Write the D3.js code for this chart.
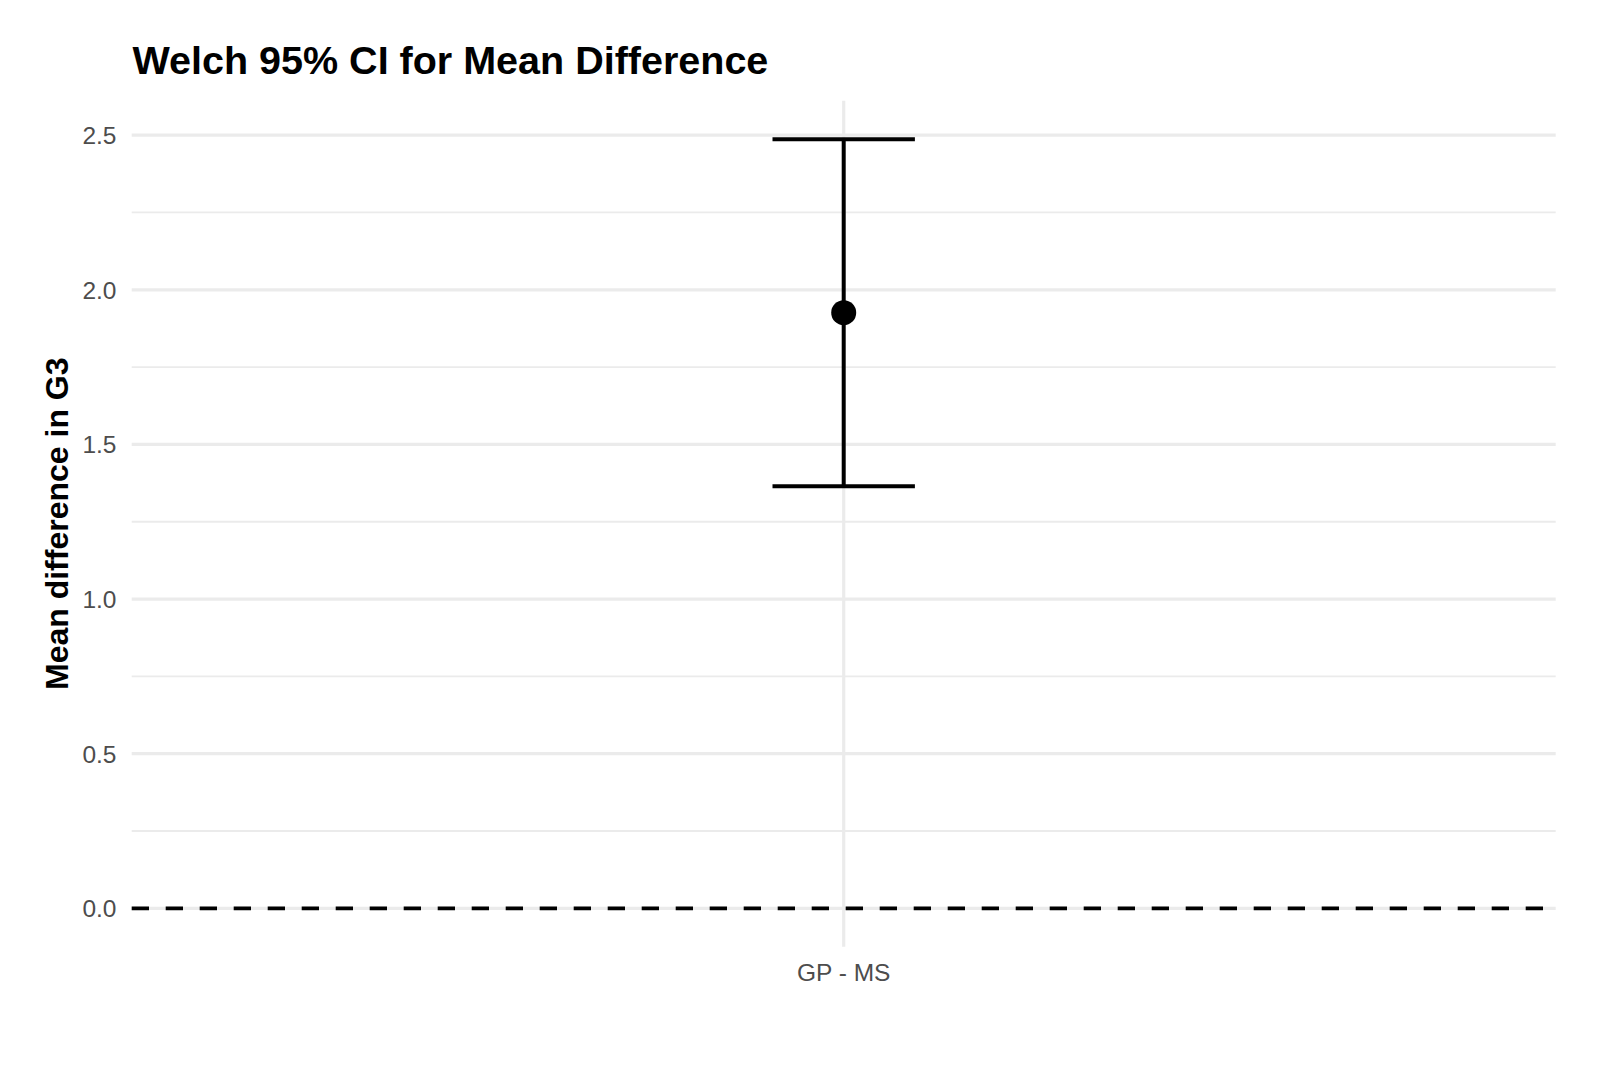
<!DOCTYPE html>
<html>
<head>
<meta charset="utf-8">
<script src="https://cdn.jsdelivr.net/npm/d3@7"></script>
<style>
    body { margin: 0; background: #fff; }
    text { font-family: "Liberation Sans", Arial, Helvetica, sans-serif; }
</style>
</head>
<body>
<div id="chart"></div>
<script>
// data
const comparisons = ["GP - MS"];
const estimates = [1.926];
const lowerCI = [1.365];
const upperCI = [2.487];
const yTicks = [0, 0.5, 1.0, 1.5, 2.0, 2.5];
const yMinorTicks = [0.25, 0.75, 1.25, 1.75, 2.25];

const width = 1600;
const height = 1067;
const plot = { left: 131.7, right: 1555.7, top: 100.7, bottom: 946.8 };

const svg = d3
    .select("#chart")
    .append("svg")
    .attr("width", width)
    .attr("height", height);

// ggplot style 5% expansion on continuous y
const yLo = Math.min(0, d3.min(lowerCI));
const yHi = Math.max(0, d3.max(upperCI));
const pad = (yHi - yLo) * 0.05;

const y = d3.scaleLinear()
    .domain([yLo - pad, yHi + pad])
    .range([plot.bottom, plot.top]);

// discrete x: positions 1..n with 0.6 padding each side
const x = d3.scaleLinear()
    .domain([0.4, comparisons.length + 0.6])
    .range([plot.left, plot.right]);

const grid = svg.append("g");

grid.selectAll(".minor")
    .data(yMinorTicks)
    .enter()
    .append("line")
    .attr("x1", plot.left)
    .attr("x2", plot.right)
    .attr("y1", d => y(d))
    .attr("y2", d => y(d))
    .attr("stroke", "#ebebeb")
    .attr("stroke-width", 1.8);

grid.selectAll(".major")
    .data(yTicks)
    .enter()
    .append("line")
    .attr("x1", plot.left)
    .attr("x2", plot.right)
    .attr("y1", d => y(d))
    .attr("y2", d => y(d))
    .attr("stroke", "#ebebeb")
    .attr("stroke-width", 3.2);

grid.selectAll(".vgrid")
    .data(comparisons)
    .enter()
    .append("line")
    .attr("x1", (d, i) => x(i + 1))
    .attr("x2", (d, i) => x(i + 1))
    .attr("y1", plot.top)
    .attr("y2", plot.bottom)
    .attr("stroke", "#ebebeb")
    .attr("stroke-width", 3.2);

// y tick labels
svg.append("g")
    .selectAll("text")
    .data(yTicks)
    .enter()
    .append("text")
    .attr("x", 116.5)
    .attr("y", d => y(d))
    .attr("dy", "0.36em")
    .attr("text-anchor", "end")
    .attr("font-size", "24.5px")
    .attr("fill", "#4d4d4d")
    .text(d => d.toFixed(1));

// x tick labels
svg.append("g")
    .selectAll("text")
    .data(comparisons)
    .enter()
    .append("text")
    .attr("x", (d, i) => x(i + 1))
    .attr("y", 980.5)
    .attr("text-anchor", "middle")
    .attr("font-size", "24.5px")
    .attr("fill", "#4d4d4d")
    .text(d => d);

// reference line at zero
svg.append("line")
    .attr("x1", plot.left)
    .attr("x2", plot.right)
    .attr("y1", y(0))
    .attr("y2", y(0))
    .attr("stroke", "#000")
    .attr("stroke-width", 3.8)
    .attr("stroke-dasharray", "17.3 16.7");

// error bars
const capHalf = 0.06;
const bars = svg.append("g")
    .selectAll("g")
    .data(comparisons)
    .enter()
    .append("g");

bars.append("line")
    .attr("x1", (d, i) => x(i + 1))
    .attr("x2", (d, i) => x(i + 1))
    .attr("y1", (d, i) => y(lowerCI[i]))
    .attr("y2", (d, i) => y(upperCI[i]))
    .attr("stroke", "#000")
    .attr("stroke-width", 4);

bars.append("line")
    .attr("x1", (d, i) => x(i + 1 - capHalf))
    .attr("x2", (d, i) => x(i + 1 + capHalf))
    .attr("y1", (d, i) => y(upperCI[i]))
    .attr("y2", (d, i) => y(upperCI[i]))
    .attr("stroke", "#000")
    .attr("stroke-width", 4);

bars.append("line")
    .attr("x1", (d, i) => x(i + 1 - capHalf))
    .attr("x2", (d, i) => x(i + 1 + capHalf))
    .attr("y1", (d, i) => y(lowerCI[i]))
    .attr("y2", (d, i) => y(lowerCI[i]))
    .attr("stroke", "#000")
    .attr("stroke-width", 4);

bars.append("circle")
    .attr("cx", (d, i) => x(i + 1))
    .attr("cy", (d, i) => y(estimates[i]))
    .attr("r", 12.5)
    .attr("fill", "#000");

// titles
svg.append("text")
    .attr("x", 132.5)
    .attr("y", 73.5)
    .attr("font-size", "39.5px")
    .attr("font-weight", "bold")
    .attr("fill", "#000")
    .text("Welch 95% CI for Mean Difference");

svg.append("text")
    .attr("transform", `translate(67.5, ${(plot.top + plot.bottom) / 2}) rotate(-90)`)
    .attr("text-anchor", "middle")
    .attr("font-size", "32px")
    .attr("font-weight", "bold")
    .attr("fill", "#000")
    .text("Mean difference in G3");
</script>
</body>
</html>
